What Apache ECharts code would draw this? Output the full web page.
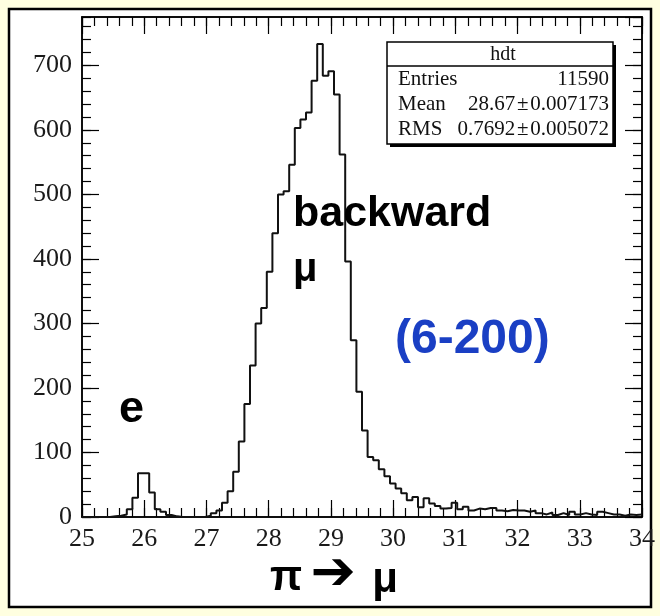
<!DOCTYPE html>
<html>
<head>
<meta charset="utf-8">
<script src="https://cdn.jsdelivr.net/npm/echarts@6/dist/echarts.min.js"></script>
<style>
  html, body { margin: 0; padding: 0; background: #FFFFE0; }
  #chart { width: 660px; height: 616px; }
</style>
</head>
<body>
<div id="chart"></div>
<script>
// hdt: 100 bins of 0.09 between 25 and 34
const X_MIN = 25;
const X_MAX = 34;
const BIN_W = 0.09;
const Y_MAX = 775;
const COUNTS = [
  0, 0, 0, 0, 0, 1, 2, 4, 12, 30,
  68, 68, 38, 12, 8, 3, 1, 0, 0, 0,
  0, 0, 2, 6, 10, 22, 40, 70, 117, 175,
  235, 300, 324, 380, 440, 500, 505, 546, 603, 616,
  627, 676, 733, 684, 691, 655, 562, 396, 274, 194,
  134, 93, 88, 74, 63, 52, 44, 37, 26, 31,
  15, 29, 21, 17, 13, 14, 22, 12, 16, 10,
  13, 12, 14, 14, 10, 9, 11, 10, 10, 8,
  10, 6, 4, 7, 3, 6, 3, 8, 4, 6,
  4, 3, 8, 6, 4, 4, 2, 4, 3, 4,
];
const STATS = [
  ['Entries', '11590'],
  ['Mean', '28.67\u200a\u00b1\u200a0.007173'],
  ['RMS', '0.7692\u200a\u00b1\u200a0.005072'],
];

// step line: one point per left bin edge, plus the closing right edge
const histPoints = COUNTS.map((c, k) => [X_MIN + k * BIN_W, c]);
histPoints.push([X_MAX, COUNTS[COUNTS.length - 1]]);

const SERIF = '"Liberation Serif", "DejaVu Serif", serif';
const SANS = '"Liberation Sans", "DejaVu Sans", sans-serif';
const LINE = { color: '#000', width: 1.5 };

function xAx(position, interval, len, labels) {
  return {
    type: 'value', position, min: X_MIN, max: X_MAX, interval,
    axisLine: { show: true, onZero: false, lineStyle: LINE },
    axisTick: { show: true, inside: true, length: len, lineStyle: { color: '#000', width: 1.2 } },
    axisLabel: { show: labels, margin: 9, color: '#1a1a1a', fontSize: 26, fontFamily: SERIF },
    splitLine: { show: false },
  };
}
function yAx(position, interval, len, labels) {
  return {
    type: 'value', position, min: 0, max: Y_MAX, interval,
    axisLine: { show: true, onZero: false, lineStyle: LINE },
    axisTick: { show: true, inside: true, length: len, lineStyle: { color: '#000', width: 1.2 } },
    axisLabel: { show: labels, margin: 10, color: '#1a1a1a', fontSize: 26, fontFamily: SERIF, showMaxLabel: false },
    splitLine: { show: false },
  };
}

function txt(x, y, text, font, fill, align) {
  return {
    type: 'text', x, y, z: 50,
    style: { text, font, fill, textAlign: align || 'left', align: align || 'left', textVerticalAlign: 'middle', verticalAlign: 'middle' },
  };
}

const statsBox = [
  { type: 'rect', z: 40, shape: { x: 390, y: 45, width: 226, height: 102 }, style: { fill: '#000' } },
  { type: 'rect', z: 41, shape: { x: 387, y: 42, width: 226, height: 102 }, style: { fill: '#fff', stroke: '#000', lineWidth: 1.5 } },
  { type: 'line', z: 42, shape: { x1: 387, y1: 66, x2: 613, y2: 66 }, style: { stroke: '#000', lineWidth: 1.5 } },
  txt(503, 55, 'hdt', '20px ' + SERIF, '#111', 'center'),
];
STATS.forEach(([name, val], i) => {
  const y = 79 + i * 25;
  statsBox.push(txt(398, y, name, '21px ' + SERIF, '#111', 'left'));
  statsBox.push(txt(609, y, val, '21px ' + SERIF, '#111', 'right'));
});

const chart = echarts.init(document.getElementById('chart'), null, { renderer: 'canvas' });
chart.setOption({
  backgroundColor: '#FFFFE0',
  animation: false,
  grid: { left: 82, right: 18, top: 17, bottom: 99, containLabel: false },
  xAxis: [
    xAx('bottom', 1, 17, true),
    xAx('bottom', 0.2, 9, false),
    xAx('top', 1, 17, false),
    xAx('top', 0.2, 9, false),
  ],
  yAxis: [
    yAx('left', 100, 17, true),
    yAx('left', 20, 9, false),
    yAx('right', 100, 17, false),
    yAx('right', 20, 9, false),
  ],
  graphic: [
    { type: 'rect', z: -10, silent: true, shape: { x: 9, y: 9, width: 642, height: 598 }, style: { fill: '#fff', stroke: '#000', lineWidth: 2.5 } },
    ...statsBox,
    txt(293, 214, 'backward', 'bold 43px ' + SANS, '#000'),
    txt(293, 270, '\u03bc', 'bold 40px ' + SANS, '#000'),
    txt(395, 340, '(6-200)', 'bold 48px ' + SANS, '#1a3fc4'),
    txt(119, 410, 'e', 'bold 45px ' + SANS, '#000'),
    txt(286, 578, '\u03c0', 'bold 42px ' + SANS, '#000', 'center'),
    txt(333, 575, '\u2794', 'bold 54px "DejaVu Sans", sans-serif', '#000', 'center'),
    txt(385, 580, '\u03bc', 'bold 42px ' + SANS, '#000', 'center'),
  ],
  series: [{
    type: 'line',
    xAxisIndex: 0,
    yAxisIndex: 0,
    step: 'end',
    showSymbol: false,
    symbol: 'none',
    lineStyle: { color: '#111', width: 2 },
    data: histPoints,
    z: 5,
  }],
});
</script>
</body>
</html>
